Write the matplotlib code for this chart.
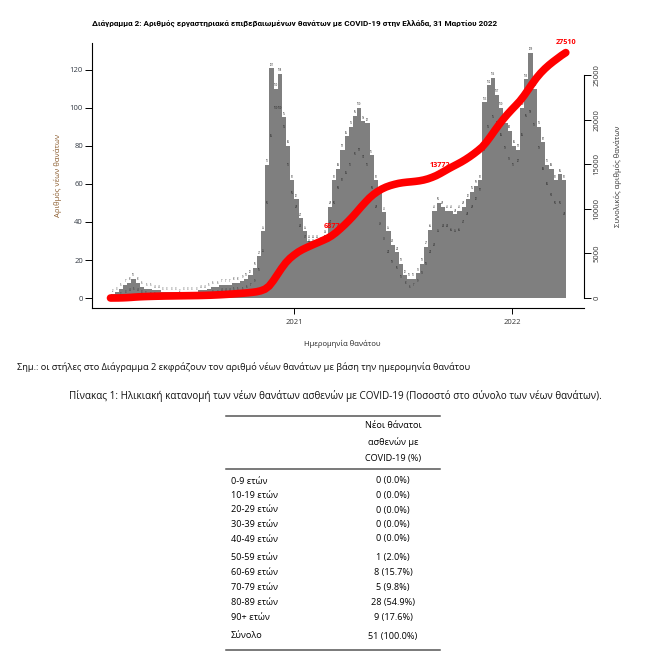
import datetime as dt
import numpy as np
import matplotlib
matplotlib.use("Agg")
import matplotlib.pyplot as plt
import matplotlib.dates as mdates
from matplotlib.lines import Line2D


# ── Data ──────────────────────────────────────────────────────────────────────

START = dt.date(2020, 2, 28)          # first day of the first 7-day block

# tallest daily bar seen in each week (what the gray mass reaches)
bar_top = [
    2, 3, 5, 7, 8, 10, 8, 6, 5, 5, 4, 4, 3,
    3, 3, 3, 2, 3, 3, 3, 3, 4, 4, 5,
    6, 6, 7, 7, 7, 8, 8, 9, 10, 12, 16, 22,
    35, 70, 121, 110, 118, 95, 80, 62,
    52, 42, 35, 30, 30, 30, 29, 33,
    48, 62, 68, 78, 85, 90, 96, 100, 93, 92, 75, 62, 55, 45, 35, 28, 24, 18,
    12, 10, 10, 13, 18, 27, 36, 46, 50,
    48, 46, 46, 44, 46, 48, 52, 56, 59, 62, 103, 112, 116, 107, 100, 92, 88,
    80, 78, 100, 115, 129, 110, 90, 82, 70, 68, 62, 65, 62,
]

# mean deaths per day in each week (feeds the cumulative red line)
weekly_mean = [
    0.5, 0.5, 2, 3, 4, 5, 4, 3, 2.5, 2, 2, 1.5, 1.5,
    1, 1, 1, 1, 1, 1, 1, 1, 1.5, 2, 2,
    3, 3, 4, 4, 4, 5, 5, 5, 6, 7, 9, 15,
    25, 50, 85, 100, 100, 90, 70, 55,
    48, 38, 32, 30, 30, 29, 29, 31,
    40, 50, 58, 62, 66, 70, 76, 78, 74, 70, 58, 48, 39, 31, 24, 19, 16, 11,
    8, 6, 7, 9, 13, 18, 24, 28, 35,
    38, 38, 36, 35, 36, 40, 44, 48, 52, 57, 78, 90, 95, 92, 86, 79, 73,
    70, 72, 86, 96, 98, 91, 79, 68, 60, 54, 50, 50, 44,
]

cum_labels = [6877, 13772, 27510]

age_groups = ["0-9 ετών", "10-19 ετών", "20-29 ετών", "30-39 ετών", "40-49 ετών",
              "50-59 ετών", "60-69 ετών", "70-79 ετών", "80-89 ετών", "90+ ετών"]
age_deaths = [0, 0, 0, 0, 0, 1, 8, 5, 28, 9]


# ── Figure ────────────────────────────────────────────────────────────────────

plt.rcParams["font.family"] = ["Open Sans", "DejaVu Sans"]

W, H = 650, 664
fig = plt.figure(figsize=(W / 100, H / 100), dpi=100)

def fx(px):
    return px / W

def fy(py):
    return 1 - py / H

ax = fig.add_axes([fx(92), fy(308), fx(584) - fx(92), fy(43) - fy(308)])

week_start = [START + dt.timedelta(days=7 * i) for i in range(len(bar_top))]
x_mid = mdates.date2num(week_start) + 3.5

ax.bar(x_mid, bar_top, width=7, color="#7f7f7f", linewidth=0, zorder=2)

# tiny value labels like the original (they read as dots at this size)
for x, top, m in zip(x_mid, bar_top, weekly_mean):
    ax.text(x, top + 0.8, str(top), fontsize=1.8, ha="center", va="bottom",
            color="#222222", zorder=3)
    ax.text(x, m, str(int(round(m))), fontsize=1.8, ha="center", va="center",
            color="#222222", zorder=3)

ax.set_xlim(mdates.date2num(dt.date(2020, 1, 28)),
            mdates.date2num(dt.date(2022, 5, 1)))
ax.set_ylim(-5.26, 134.2)

for s in ["top", "right"]:
    ax.spines[s].set_visible(False)
ax.spines["left"].set_linewidth(0.8)
ax.spines["bottom"].set_linewidth(0.8)

ax.set_yticks(range(0, 121, 20))
ax.set_xticks(mdates.date2num([dt.date(2021, 1, 1), dt.date(2022, 1, 1)]))
ax.set_xticklabels(["2021", "2022"])
ax.tick_params(axis="y", length=5, width=0.7, pad=1.5, labelsize=5.5,
               labelcolor="#333a44")
ax.tick_params(axis="x", length=4, width=0.7, pad=4, labelsize=5.5,
               labelcolor="#333333")

# cumulative deaths on the right-hand axis
ax2 = ax.twinx()
cum = np.cumsum(np.array(weekly_mean) * 7)
cum_x = np.concatenate([[mdates.date2num(START)], x_mid + 3.0])
cum_y = np.concatenate([[0], cum])
ax2.plot(cum_x, cum_y, color="#ff0000", linewidth=5.5,
         solid_capstyle="round", zorder=4)

for val in cum_labels:
    i = min(np.searchsorted(cum_y, val - 5), len(cum_y) - 1)
    ax2.annotate(str(val), xy=(cum_x[i], val), xytext=(0, 7),
                 textcoords="offset points", ha="center", va="center",
                 color="#ff0000", fontsize=5.2, fontweight="bold", zorder=5)

ax2.set_ylim(-1121, 28587)
for s in ["top", "left", "bottom"]:
    ax2.spines[s].set_visible(False)
ax2.spines["right"].set_bounds(0, 25000)
ax2.spines["right"].set_linewidth(0.8)
ax2.set_yticks(range(0, 25001, 5000))
ax2.tick_params(axis="y", length=5, width=0.7, pad=2, labelsize=5.5,
                labelcolor="#333333", labelrotation=90)
for lab in ax2.get_yticklabels():
    lab.set_va("center")

# axis titles
fig.text(fx(58), fy(175), "Αριθμός νέων θανάτων", rotation=90, ha="center",
         va="center", fontsize=5.5, color="#8a5a2b")
fig.text(fx(618), fy(176), "Συνολικός αριθμός θανάτων", rotation=90,
         ha="center", va="center", fontsize=5.5, color="#333333")
fig.text(fx(342), fy(344), "Ημερομηνία θανάτου", ha="center", va="center",
         fontsize=5.5, color="#222222")

fig.text(fx(295), fy(24),
         "Διάγραμμα 2: Αριθμός εργαστηριακά επιβεβαιωμένων θανάτων με COVID-19 "
         "στην Ελλάδα, 31 Μαρτίου 2022",
         ha="center", va="center", fontsize=5.85, fontweight="bold",
         family=["Roboto", "DejaVu Sans"])


# ── Note and table ────────────────────────────────────────────────────────────

fig.text(fx(17), fy(367),
         "Σημ.: οι στήλες στο Διάγραμμα 2 εκφράζουν τον αριθμό νέων θανάτων "
         "με βάση την ημερομηνία θανάτου",
         ha="left", va="center", fontsize=6.7, color="#111111")

fig.text(fx(335), fy(396),
         "Πίνακας 1: Ηλικιακή κατανομή των νέων θανάτων ασθενών με COVID-19 "
         "(Ποσοστό στο σύνολο των νέων θανάτων).",
         ha="center", va="center", fontsize=7.1, color="#111111")

for y in [416, 469, 650]:
    fig.add_artist(Line2D([fx(226), fx(440)], [fy(y), fy(y)],
                          color="#555555", linewidth=1.1))

for y, line in zip([425, 442, 458], ["Νέοι θάνατοι", "ασθενών με", "COVID-19 (%)"]):
    fig.text(fx(393), fy(y), line, ha="center", va="center", fontsize=6.6)

total = sum(age_deaths)
row_y = [481, 495.5, 510, 524.5, 539, 557.5, 572.5, 587.5, 602.5, 617.5]
for y, grp, n in zip(row_y, age_groups, age_deaths):
    fig.text(fx(231), fy(y), grp, ha="left", va="center", fontsize=6.6)
    fig.text(fx(393), fy(y), f"{n} ({100 * n / total:.1f}%)", ha="center",
             va="center", fontsize=6.6)

fig.text(fx(231), fy(636), "Σύνολο", ha="left", va="center", fontsize=6.6)
fig.text(fx(393), fy(636), f"{total} (100.0%)", ha="center", va="center",
         fontsize=6.6)

fig.savefig("out.png", dpi=100)
